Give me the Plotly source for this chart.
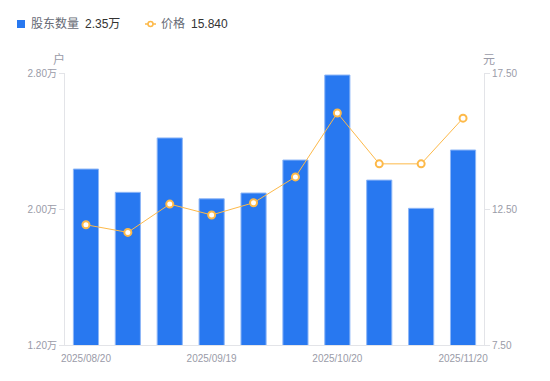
import plotly.graph_objects as go

dates = ["2025/08/20", "2025/08/29", "2025/09/10", "2025/09/19", "2025/09/30",
         "2025/10/10", "2025/10/20", "2025/10/31", "2025/11/10", "2025/11/20"]
holders_wan = [2.235, 2.098, 2.418, 2.060, 2.094, 2.288, 2.788, 2.170, 2.004, 2.347]
price = [11.92, 11.64, 12.68, 12.28, 12.73, 13.68, 16.03, 14.16, 14.16, 15.84]

left_ticks = [1.2, 2.0, 2.8]
left_ticktext = ["1.20万", "2.00万", "2.80万"]
right_ticks = [7.5, 12.5, 17.5]
right_ticktext = ["7.50", "12.50", "17.50"]
x_tick_idx = [0, 3, 6, 9]

FONT = "Arial, Liberation Sans, Noto Sans CJK SC, sans-serif"
BLUE = "#2878F0"
ORANGE = "#FDB949"
AXIS = "#E3E4E8"
TICKC = "#9A9BA8"

fig = go.Figure()
fig.add_trace(go.Bar(
    x=dates, y=holders_wan, name="股东数量",
    marker=dict(color=BLUE, line=dict(color="#8DB6F7", width=1)),
    yaxis="y", showlegend=False,
))
fig.add_trace(go.Scatter(
    x=dates, y=price, name="价格", mode="lines+markers",
    line=dict(color=ORANGE, width=1),
    marker=dict(symbol="circle", size=7, color="white",
                line=dict(color=ORANGE, width=2)),
    yaxis="y2", showlegend=False,
))

fig.update_layout(
    width=550, height=381,
    margin=dict(l=65, r=66, t=73, b=36),
    paper_bgcolor="white", plot_bgcolor="white",
    font=dict(family=FONT, size=10, color=TICKC),
    bargap=0.4,
    xaxis=dict(
        type="category", range=[-0.5, 9.5],
        tickvals=[dates[i] for i in x_tick_idx],
        ticktext=[dates[i] for i in x_tick_idx],
        showline=True, linecolor=AXIS, linewidth=1,
        ticks="", showgrid=False, zeroline=False,
        ticklabelstandoff=4,
        tickfont=dict(size=10, color=TICKC),
    ),
    yaxis=dict(
        range=[1.2, 2.8], tickvals=left_ticks, ticktext=left_ticktext,
        showline=True, linecolor=AXIS, linewidth=1,
        ticks="outside", ticklen=5, tickcolor=AXIS,
        showgrid=False, zeroline=False,
        tickfont=dict(size=10, color=TICKC),
    ),
    yaxis2=dict(
        range=[7.5, 17.5], tickvals=right_ticks, ticktext=right_ticktext,
        overlaying="y", side="right",
        showline=True, linecolor=AXIS, linewidth=1,
        ticks="outside", ticklen=5, tickcolor=AXIS,
        showgrid=False, zeroline=False,
        tickfont=dict(size=10, color=TICKC),
    ),
)

# axis unit titles
fig.add_annotation(text="户", xref="paper", yref="paper", x=-6 / 419, y=1 + 13 / 272,
                   xanchor="center", yanchor="middle", showarrow=False,
                   font=dict(size=12, color=TICKC, family=FONT))
fig.add_annotation(text="元", xref="paper", yref="paper", x=1 + 5 / 419, y=1 + 13 / 272,
                   xanchor="center", yanchor="middle", showarrow=False,
                   font=dict(size=12, color=TICKC, family=FONT))

# custom legend
fig.add_shape(type="rect", xref="paper", yref="paper",
              x0=-48 / 419, x1=-40 / 419, y0=1 + 45 / 272, y1=1 + 53 / 272,
              fillcolor=BLUE, line=dict(width=0))
fig.add_annotation(text="股东数量", xref="paper", yref="paper", x=-36 / 419, y=1 + 49 / 272,
                   xanchor="left", yanchor="middle", showarrow=False,
                   font=dict(size=12, color="#666A75", family=FONT))
fig.add_annotation(text="%.2f万" % holders_wan[-1], xref="paper", yref="paper", x=18 / 419, y=1 + 49 / 272,
                   xanchor="left", yanchor="middle", showarrow=False,
                   font=dict(size=12, color="#333333", family=FONT))
fig.add_shape(type="line", xref="paper", yref="paper",
              x0=80 / 419, x1=91 / 419, y0=1 + 49 / 272, y1=1 + 49 / 272,
              line=dict(color=ORANGE, width=1.5))
fig.add_shape(type="circle", xref="paper", yref="paper",
              x0=83 / 419, x1=88 / 419, y0=1 + 46.5 / 272, y1=1 + 51.5 / 272,
              fillcolor="white", line=dict(color=ORANGE, width=1.5))
fig.add_annotation(text="价格", xref="paper", yref="paper", x=94 / 419, y=1 + 49 / 272,
                   xanchor="left", yanchor="middle", showarrow=False,
                   font=dict(size=12, color="#666A75", family=FONT))
fig.add_annotation(text="%.3f" % price[-1], xref="paper", yref="paper", x=124 / 419, y=1 + 49 / 272,
                   xanchor="left", yanchor="middle", showarrow=False,
                   font=dict(size=12, color="#333333", family=FONT))

fig.write_html("out.html", config={"displayModeBar": False},
               post_script="document.body.style.margin='0';document.body.style.padding='0';")
